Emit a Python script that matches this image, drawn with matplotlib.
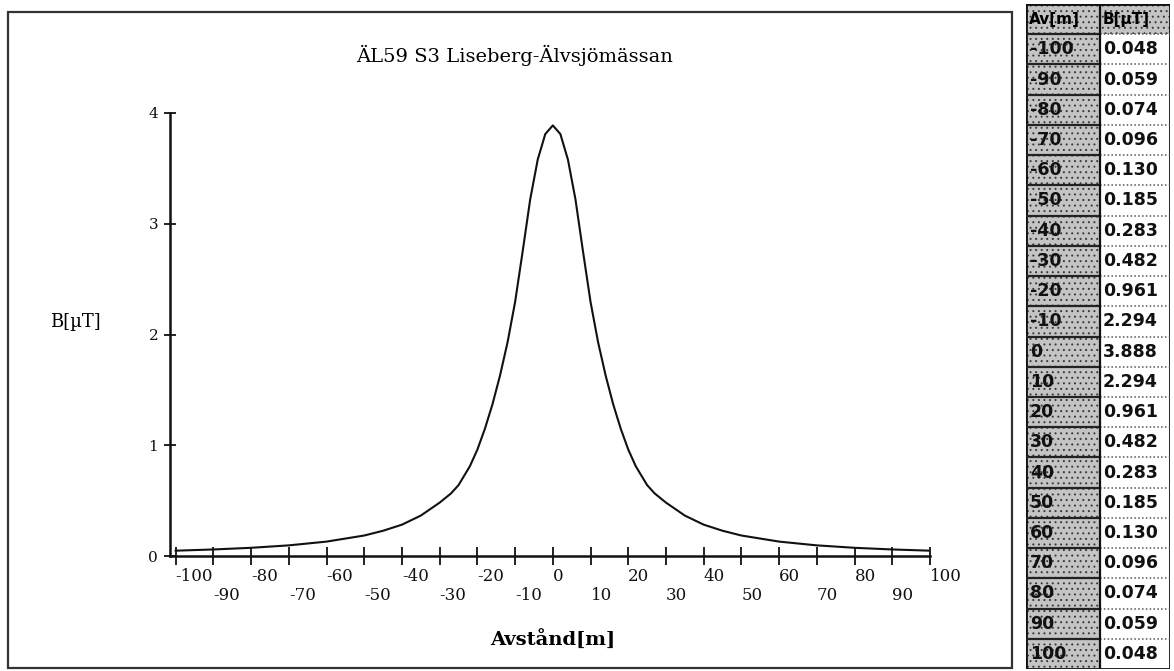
import matplotlib
matplotlib.use("Agg")
import matplotlib.pyplot as plt
from matplotlib import font_manager
from matplotlib.patches import Rectangle
from matplotlib.lines import Line2D

# Tabellvärden: avstånd [m] och magnetfält B [µT]
avstand = [-100, -90, -80, -70, -60, -50, -40, -30, -20, -10, 0,
           10, 20, 30, 40, 50, 60, 70, 80, 90, 100]
b_tabell = [0.048, 0.059, 0.074, 0.096, 0.130, 0.185, 0.283, 0.482, 0.961, 2.294, 3.888,
            2.294, 0.961, 0.482, 0.283, 0.185, 0.130, 0.096, 0.074, 0.059, 0.048]

# extra punkter avlästa från kurvan mellan tabellraderna
kurva_x_extra = [-45, -35, -27, -25, -22, -18, -16, -14, -12, -8, -6, -4, -2,
                 2, 4, 6, 8, 12, 14, 16, 18, 22, 25, 27, 35, 45]
kurva_b_extra = [0.228, 0.365, 0.565, 0.64, 0.81, 1.15, 1.37, 1.63, 1.93, 2.75, 3.22, 3.58, 3.81,
                 3.81, 3.58, 3.22, 2.75, 1.93, 1.63, 1.37, 1.15, 0.81, 0.64, 0.565, 0.365, 0.228]

titel = "ÄL59 S3 Liseberg-Älvsjömässan"
x_titel = "Avstånd[m]"
y_titel = "B[µT]"
kolumn_rubriker = ["Av[m]", "B[µT]"]
y_ticks = [0, 1, 2, 3, 4]

W, H = 1174, 671
fig = plt.figure(figsize=(W / 100, H / 100), dpi=100)
fig.patch.set_facecolor("white")

serif = "DejaVu Serif"
installed = {f.name for f in font_manager.fontManager.ttflist}
tab_font = "Liberation Sans Narrow" if "Liberation Sans Narrow" in installed else "DejaVu Sans"
tab_size = 14 if tab_font == "Liberation Sans Narrow" else 12.5

# yttre ram runt diagrammet
fig.add_artist(Rectangle((8 / W, 1 - 668 / H), (1012 - 8) / W, (668 - 12) / H,
                         transform=fig.transFigure, fill=False, lw=1.6, ec="#333333"))

# --- diagram ---
ax = fig.add_axes([170 / W, 1 - 556 / H, 760 / W, 443 / H])
punkter = sorted(zip(avstand + kurva_x_extra, b_tabell + kurva_b_extra))
ax.plot([p[0] for p in punkter], [p[1] for p in punkter], color="#111111", lw=1.5,
        solid_joinstyle="round")
ax.set_xlim(-101.5, 100)
ax.set_ylim(0, 4)
for s in ["top", "right"]:
    ax.spines[s].set_visible(False)
for s in ["left", "bottom"]:
    ax.spines[s].set_linewidth(1.8)
    ax.spines[s].set_color("#111111")

ax.set_xticks(avstand)
ax.set_xticklabels([str(v) if i % 2 == 0 else "\n" + str(v) for i, v in enumerate(avstand)],
                   family=serif, fontsize=12)
for lab in ax.get_xticklabels():
    lab.set_horizontalalignment("left")
ax.tick_params(axis="x", direction="inout", length=13, width=1.3, pad=2, colors="#111111")

ax.set_yticks(y_ticks)
ax.set_yticklabels([str(v) for v in y_ticks], family=serif, fontsize=11)
ax.tick_params(axis="y", direction="inout", length=9, width=1.3, pad=4, colors="#111111")

fig.text(515 / W, 1 - 55 / H, titel, ha="center", va="center", fontsize=14, family=serif)
fig.text(75 / W, 1 - 322 / H, y_titel, ha="center", va="center", fontsize=13, family=serif)
fig.text(553 / W, 1 - 640 / H, x_titel, ha="center", va="center", fontsize=14,
         family=serif, fontweight="bold")

# --- tabell ---
plt.rcParams["hatch.linewidth"] = 0.7
tx0, tx1, ty0, ty1 = 1026, 1170, 4, 669
axt = fig.add_axes([tx0 / W, 1 - ty1 / H, (tx1 - tx0) / W, (ty1 - ty0) / H])
axt.set_xlim(0, tx1 - tx0)
axt.set_ylim(len(avstand) + 1, 0)
axt.axis("off")
split = 74
width = tx1 - tx0
nrows = len(avstand) + 1

for r in range(nrows):
    axt.add_patch(Rectangle((0, r), split, 1, fc="#c4c4c4", ec="#3a3a3a", hatch="...", lw=0))
    if r == 0:
        axt.add_patch(Rectangle((split, r), width - split, 1, fc="#c4c4c4", ec="#3a3a3a",
                                hatch="...", lw=0))
    if r > 0:
        axt.add_line(Line2D([0, split], [r, r], color="#222222", lw=1.6))
        axt.add_line(Line2D([split, width], [r, r], color="#555555", lw=1.1, ls=(0, (1, 1.5))))

axt.add_line(Line2D([split, split], [0, nrows], color="#111111", lw=1.6))
axt.add_patch(Rectangle((0, 0), width, nrows, fill=False, ec="#111111", lw=2))

axt.text(3, 0.5, kolumn_rubriker[0], ha="left", va="center", family=tab_font,
         fontsize=tab_size - 1.5, fontweight="bold")
axt.text(split + 3, 0.5, kolumn_rubriker[1], ha="left", va="center", family=tab_font,
         fontsize=tab_size - 1.5, fontweight="bold")
for i, (a, b) in enumerate(zip(avstand, b_tabell)):
    axt.text(4, i + 1.5, str(a), ha="left", va="center", family=tab_font,
             fontsize=tab_size, fontweight="bold", color="#111111")
    axt.text(split + 3, i + 1.5, f"{b:.3f}", ha="left", va="center", family=tab_font,
             fontsize=tab_size, fontweight="bold", color="#111111")

fig.savefig("out.png", dpi=100)
